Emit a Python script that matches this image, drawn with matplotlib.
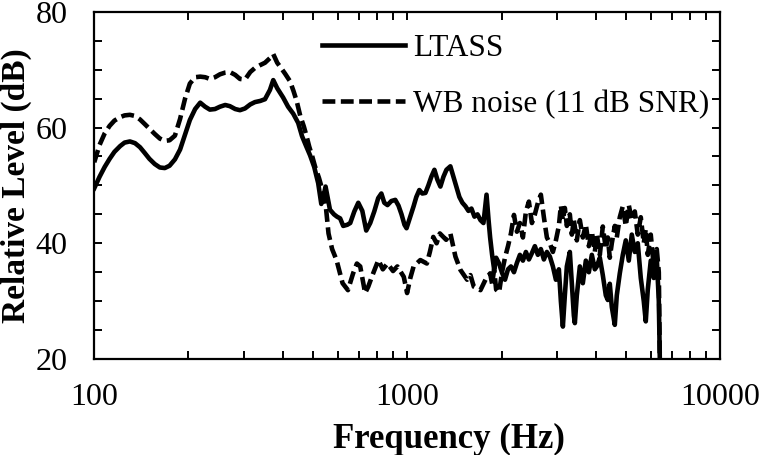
import numpy as np
import matplotlib
matplotlib.use('Agg')
import matplotlib.pyplot as plt
from matplotlib.ticker import MultipleLocator, FixedLocator, NullFormatter

plt.rcParams['font.family'] = ['Liberation Serif', 'DejaVu Serif']
plt.rcParams['mathtext.fontset'] = 'stix'

# LTASS spectrum (Hz, dB)
ltass_freq = [100, 104, 108, 112, 116, 121, 125, 130, 135, 140, 145, 150, 156, 162, 168,
              174, 181, 188, 195, 202, 210, 218, 226, 234, 243, 252, 262, 271, 282, 292,
              303, 315, 326, 339, 351, 364, 373, 384, 401, 416, 432, 448, 461, 475, 489,
              504, 519, 531, 540, 548, 556, 566, 583, 596, 610, 624, 643, 657, 677, 697,
              718, 739, 761, 784, 807, 826, 844, 864, 889, 915, 937, 958, 979, 994, 1016,
              1047, 1068, 1092, 1116, 1142, 1167, 1193, 1220, 1247, 1275, 1304, 1333, 1372,
              1403, 1434, 1466, 1499, 1533, 1567, 1602, 1638, 1675, 1712, 1750, 1790, 1817,
              1838, 1865, 1893, 1921, 1963, 2006, 2050, 2096, 2142, 2190, 2238, 2288, 2339,
              2391, 2444, 2499, 2554, 2611, 2669, 2729, 2790, 2852, 2916, 2981, 3047, 3092,
              3138, 3184, 3231, 3303, 3352, 3402, 3427, 3477, 3555, 3634, 3715, 3798, 3883,
              3969, 4028, 4118, 4209, 4303, 4367, 4431, 4497, 4597, 4665, 4769, 4876, 4984,
              5095, 5209, 5325, 5444, 5565, 5689, 5773, 5859, 5989, 6123, 6259, 6354, 6401]
ltass_db = [49.5, 51.5, 53.2, 54.6, 55.8, 56.8, 57.4, 57.6, 57.3, 56.6, 55.6, 54.6, 53.7, 53.1, 53.0,
            53.4, 54.5, 56.2, 58.8, 61.3, 63.2, 64.3, 63.6, 63.1, 63.2, 63.6, 63.9, 63.7, 63.2, 63.0,
            63.3, 64.0, 64.4, 64.6, 64.9, 66.5, 68.2, 66.8, 65.2, 63.6, 62.4, 60.8, 58.5, 56.8, 55.2,
            53.2, 50.4, 46.8, 48.2, 49.8, 48.0, 45.8, 45.0, 44.6, 44.3, 43.0, 43.2, 43.5, 45.5, 47.0,
            45.6, 42.2, 43.5, 45.5, 47.8, 48.6, 47.0, 46.6, 47.3, 47.5, 46.5, 45.0, 43.2, 42.6, 44.2,
            46.4, 48.0, 49.2, 48.6, 48.7, 50.0, 51.5, 52.7, 51.0, 49.8, 51.5, 52.7, 53.3,
            51.5, 49.8, 48.0, 47.0, 46.4, 45.6, 46.0, 44.6, 45.0, 44.0, 43.5, 48.4, 44.0,
            41.0, 38.0, 35.5, 37.5, 36.5, 34.9, 33.7, 35.5, 36.0, 35.0, 36.6, 38.0, 37.0,
            38.5, 37.2, 38.3, 39.5, 38.0, 39.0, 37.2, 38.5, 37.7, 36.0, 33.7, 35.5, 30.0,
            25.6, 31.0, 36.0, 38.5, 33.0, 27.5, 26.2, 31.0, 36.0, 33.1, 37.0, 35.0, 38.0,
            35.5, 36.0, 37.5, 34.5, 31.0, 30.2, 33.0, 29.0, 25.9, 31.0, 34.8, 38.0, 40.5,
            37.0, 41.5, 38.5, 40.0, 34.0, 30.0, 26.5, 32.0, 37.0, 34.0, 37.5, 30.0, 20.0]

# wideband noise at 11 dB SNR (Hz, dB)
noise_freq = [100, 104, 108, 112, 116, 121, 125, 130, 135, 140, 145, 150, 156, 162, 168,
              174, 181, 188, 195, 202, 210, 218, 226, 234, 243, 252, 262, 271, 282, 292,
              303, 315, 326, 339, 351, 364, 373, 384, 395, 407, 422, 433, 443, 455, 467,
              476, 486, 497, 507, 522, 540, 549, 560, 575, 594, 608, 621, 646, 671, 690,
              707, 733, 750, 770, 808, 835, 864, 900, 929, 974, 998, 1022, 1047, 1100, 1154,
              1180, 1210, 1240, 1270, 1330, 1372, 1424, 1477, 1552, 1590, 1630, 1712, 1776,
              1838, 1865, 1893, 1921, 1963, 2006, 2050, 2096, 2142, 2190, 2238, 2288, 2339,
              2391, 2444, 2499, 2554, 2611, 2669, 2729, 2790, 2852, 2916, 2981, 3047, 3092,
              3138, 3184, 3231, 3303, 3352, 3402, 3477, 3555, 3634, 3715, 3798, 3883, 3969,
              4028, 4118, 4209, 4303, 4367, 4431, 4497, 4597, 4665, 4769, 4876, 4984, 5095,
              5209, 5325, 5444, 5565, 5689, 5773, 5859, 5989, 6123, 6259, 6354, 6401]
noise_db = [54.0, 57.0, 59.0, 60.3, 61.2, 61.8, 62.1, 62.2, 62.0, 61.4, 60.6, 59.8, 58.9, 58.1, 57.7,
            57.8, 58.6, 61.5, 65.0, 67.6, 68.7, 68.8, 68.7, 68.4, 68.7, 69.2, 69.5, 69.6, 69.1, 68.4,
            68.3, 69.6, 70.3, 70.8, 71.2, 72.0, 72.7, 71.2, 70.3, 69.3, 68.0, 66.3, 64.6, 62.0, 60.2,
            58.6, 56.7, 55.0, 53.3, 51.3, 48.5, 46.4, 41.7, 39.0, 37.1, 35.0, 33.1, 31.9, 34.8, 36.5,
            36.0, 31.4, 32.5, 34.2, 37.1, 35.5, 36.5, 35.2, 36.0, 34.2, 31.4, 34.0, 36.0, 37.1, 36.5,
            38.5, 41.1, 40.0, 41.7, 40.6, 41.7, 37.7, 35.4, 33.7, 34.5, 32.5, 31.9, 33.7,
            34.8, 33.0, 35.5, 32.0, 31.5, 35.0, 37.5, 39.5, 41.7, 44.9, 42.0, 43.5, 41.0,
            45.5, 47.2, 43.5, 45.0, 47.0, 48.4, 44.5, 41.0, 40.0, 38.5, 40.5, 43.0, 46.5,
            44.0, 46.1, 43.0, 45.0, 41.5, 44.0, 40.5, 44.0, 41.0, 43.2, 39.5, 42.0, 38.5,
            41.5, 38.0, 42.9, 39.0, 41.0, 37.5, 40.0, 43.0, 41.0, 44.5, 46.4, 43.0, 46.6,
            44.0, 45.5, 41.5, 44.5, 40.0, 42.5, 38.0, 41.5, 36.0, 39.0, 35.0, 20.0]

fig = plt.figure(figsize=(7.6, 4.55), dpi=100)
ax = fig.add_axes([0.124, 0.211, 0.824, 0.763])

ax.plot(noise_freq, noise_db, color='black', lw=3.3, dashes=(2.8, 1.2),
        label='WB noise (11 dB SNR)')
ax.plot(ltass_freq, ltass_db, color='black', lw=3.3, label='LTASS',
        solid_joinstyle='round')

ax.set_xscale('log')
ax.set_xlim(100, 10000)
ax.set_ylim(20, 80)
ax.yaxis.set_major_locator(MultipleLocator(20))
ax.yaxis.set_minor_locator(MultipleLocator(5))
ax.xaxis.set_major_locator(FixedLocator([100, 1000, 10000]))
ax.xaxis.set_major_formatter(matplotlib.ticker.FixedFormatter(['100', '1000', '10000']))
ax.xaxis.set_minor_formatter(NullFormatter())

for sp in ax.spines.values():
    sp.set_linewidth(1.6)
ax.tick_params(which='both', direction='in', top=True, right=True,
               length=6, width=1.4, labelsize=23)
ax.tick_params(axis='x', which='major', pad=17)
ax.tick_params(axis='y', which='major', pad=19)

ax.set_xlabel('Frequency (Hz)', fontsize=25, fontweight='bold', labelpad=8, x=0.566)
ax.set_ylabel('Relative Level (dB)', fontsize=24, fontweight='bold', labelpad=3)

h, l = ax.get_legend_handles_labels()
ax.legend(h[::-1], l[::-1], loc='upper right', frameon=False, fontsize=22.5,
          handlelength=2.65, handletextpad=0.25, labelspacing=0.85,
          borderaxespad=0.2, bbox_to_anchor=(1.012, 0.99))

fig.savefig('out.png', dpi=100)
